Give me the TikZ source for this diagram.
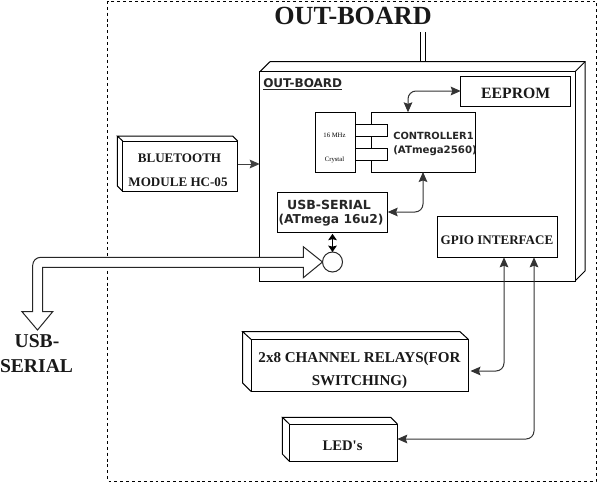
\documentclass[tikz,border=0pt]{standalone}
\usepackage{fontspec}
\setmainfont{Liberation Serif}
\newfontfamily\plainserif{Liberation Serif}
\newfontfamily\vf{DejaVu Sans}
\usetikzlibrary{arrows.meta,calc}
\newcommand{\pxbox}[5]{\node[bx,minimum width={(#4-#2)*0.75pt},minimum height={(#5-#3)*0.75pt}] (#1) at ({(#2+#4)/2},{(#3+#5)/2}) {};}
\tikzset{
 line/.style={line width=0.75pt,black},
 bx/.style={draw,fill=white,inner sep=0pt,outer sep=0pt,line width=0.75pt},
 tip/.tip={Stealth[length=7.5pt,width=6.5pt,inset=1.2pt]},
 stub/.tip={Stealth[length=4.8pt,width=6.5pt,inset=0.8pt]},
 arr/.style={line width=0.75pt,draw=black!80,rounded corners=6,{tip}-{tip}},
 txt/.style={anchor=base,inner sep=0pt,font=\bfseries\fontsize{#1}{#1}\selectfont,text=black!90},
 vtxt/.style={anchor=base,inner sep=0pt,font=\vf\bfseries\fontsize{#1}{#1}\selectfont,text=black!85},
 tiny/.style={anchor=base,inner sep=0pt,font=\fontsize{5}{5}\selectfont}
}
\begin{document}
\begin{tikzpicture}[x=0.75pt,y=-0.75pt]
\useasboundingbox (0,0) rectangle (599,482);
\fill[white] (0,0) rectangle (599,482);
% outer dashed frame
\draw[line width=0.75pt,dash pattern=on 2.2pt off 2.2pt] (107.5,1) rectangle (596,481);
\node[txt=19.6] (title) at (353,24) {OUT-BOARD};
% board cube
\draw[line] (270,61.7) -- (585,61.7) -- (585,271) -- (575,281);
\draw[line] (260,71.7) -- (270,61.7);
\draw[line] (575,71.7) -- (585,61.7);
\pxbox{board}{259.7}{71.7}{575}{281}
\coordinate (busb) at (420.5,32);
\coordinate (busc) at (425,32);
\draw[line] (busb) -- (420.5,61.7);
\draw[line] (busc) -- (425,61.7);
\node[vtxt=9,anchor=base west] (blabel) at (263,87) {\underbar{OUT-BOARD}};
% EEPROM
\pxbox{eeprom}{460.7}{76.7}{570.7}{106}
\node[txt=11.8] (eetext) at (eeprom.center |- 0,98) {EEPROM};
% controller and crystal
\pxbox{ctrl}{371.7}{112.3}{475}{172}
\pxbox{xtal}{315}{112.3}{355.7}{172}
\pxbox{portA}{355.7}{124.3}{387.7}{136.3}
\pxbox{portB}{355.7}{148.3}{387.7}{160.3}
\node[tiny] (xa) at (334.5,137) {16 MHz};
\node[tiny] (xb) at (334.5,161) {Crystal};
\node[vtxt=7.4,anchor=base west] (ca) at (393,139) {CONTROLLER1};
\node[vtxt=7.65,anchor=base west] (cb) at (393,153) {(ATmega2560)};
% USB-serial
\pxbox{ser}{277.3}{192.3}{387.7}{232.3}
\node[vtxt=9.4] (sa) at (329,209) {USB-SERIAL};
\node[vtxt=9.2] (sb) at (331,223) {(ATmega 16u2)};
\node[draw,line width=0.75pt,draw=black!85,circle,fill=white,minimum size=15pt,inner sep=0pt,outer sep=0pt] (usb) at (332.5,262) {};
% GPIO
\pxbox{gpio}{437.3}{216.3}{557.7}{257.3}
\node[txt=9.8] (gt) at (497,244) {GPIO INTERFACE};
% bluetooth
\draw[line] (122.7,141) -- (117.3,136) -- (232.7,136) -- (237.7,141);
\draw[line] (117.3,136) -- (117.3,186) -- (122.7,191.3);
\pxbox{bt}{122.7}{141}{237.7}{191.3}
\node[txt=9.8] (bta) at (179.5,162) {BLUETOOTH};
\node[txt=9.8] (btb) at (178,186) {MODULE HC-05};
% relays
\draw[line] (251,339.3) -- (242.7,331.7) -- (460,331.7) -- (468.3,339.3);
\draw[line] (242.7,331.7) -- (242.7,383) -- (251,391.3);
\pxbox{rel}{251}{339.3}{468.3}{391.3}
\node[txt=11.3] (ra) at (359.5,362) {2x8 CHANNEL RELAYS(FOR};
\node[txt=11.3] (rb) at (359.5,385) {SWITCHING)};
% LEDs
\draw[line] (289.3,424) -- (282.3,417.3) -- (390.7,417.3) -- (397.3,424);
\draw[line] (282.3,417.3) -- (282.3,454) -- (289.3,461.3);
\pxbox{led}{289.3}{424}{397.3}{461.3}
\node[txt=11] (lt) at (342.5,450) {\plainserif\bfseries LED's};
% big hollow arrow
\coordinate (bigout) at (37.5,330);
\draw[line,fill=white,draw=black!85] (usb.west) -- (303.3,246.7) -- (303.3,257.3) -- (40.7,257.3)
  to[out=180,in=90] (32.7,265.3) -- (32.7,311.7) -- (22,311.7) -- (bigout) -- (52.7,311.7) -- (42.7,311.7)
  -- (42.7,267.3) -- (303.3,267.3) -- (303.3,277.7) -- cycle;
\node[txt=14.7] (ua) at (37,347) {USB-};
\node[txt=14.7] (ub) at (36.5,372) {SERIAL};
% connectors
\coordinate (c1) at (408,112.3);
\draw[arr] (eeprom.west |- 0,91) -| (c1);
\coordinate (c2) at (423,172);
\draw[arr] (ser.east |- 0,212) -| (c2);
\draw[line width=0.9pt,draw=black,{stub}-{stub}] (ser.south -| usb) ++(0,1.5) -- (usb.north);
\coordinate (g1) at (504,257.3);
\coordinate (g2) at (534,257.3);
\coordinate (r1) at (470.5,371);
\coordinate (l1) at (397.3,439);
\draw[arr] (g1) |- (r1);
\draw[arr] (g2) |- (l1);
\draw[line width=0.75pt,draw=black!75,-{tip}] (bt.east |- 0,164) -- (board.west |- 0,164);
\end{tikzpicture}
\end{document}
